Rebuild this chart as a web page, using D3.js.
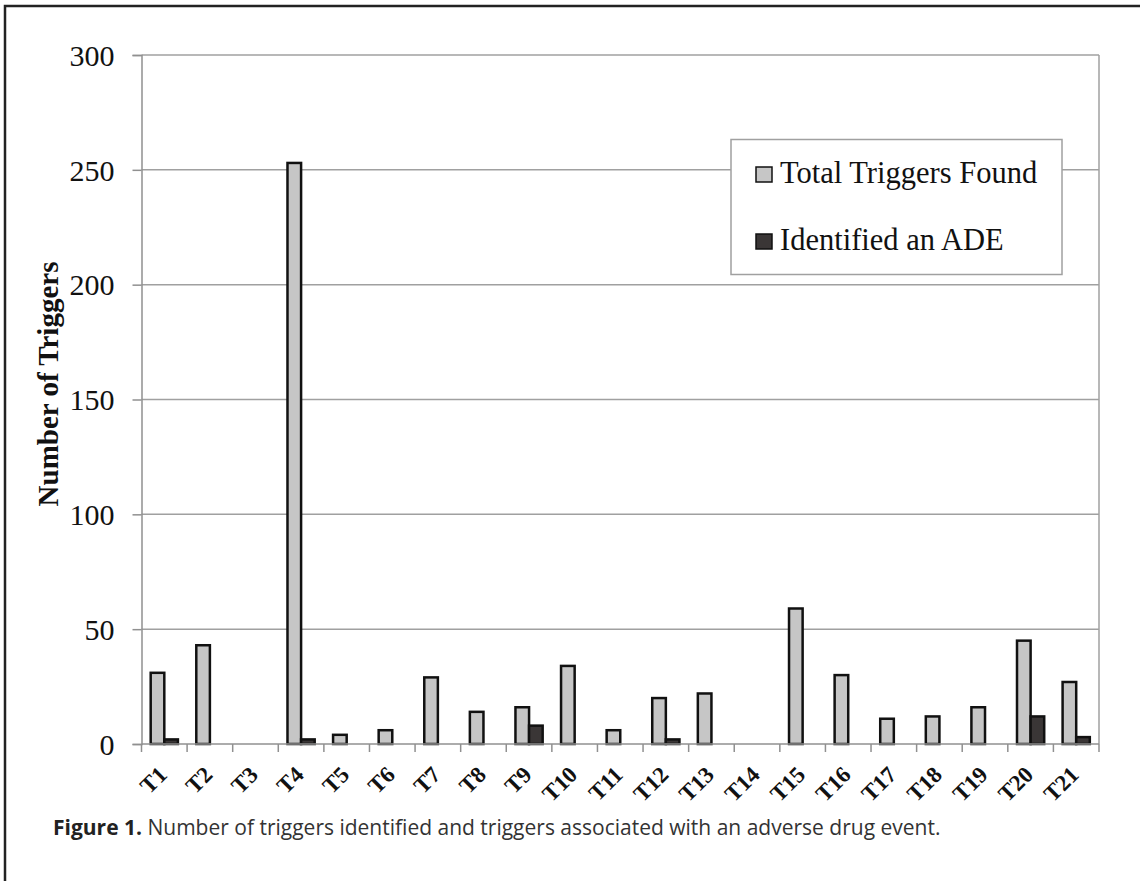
<!DOCTYPE html>
<html>
<head>
<meta charset="utf-8">
<script src="https://d3js.org/d3.v7.min.js"></script>
<style>
  body { margin: 0; background: #fff; }
  svg { display: block; }
</style>
</head>
<body>
<div id="chart"></div>
<script>
// data
var categories = ["T1","T2","T3","T4","T5","T6","T7","T8","T9","T10","T11",
                  "T12","T13","T14","T15","T16","T17","T18","T19","T20","T21"];
var totalTriggers = [31,43,0,253,4,6,29,14,16,34,6,20,22,0,59,30,11,12,16,45,27];
var identifiedADE = [2,0,0,2,0,0,0,0,8,0,0,2,0,0,0,0,0,0,0,12,3];
var seriesNames = ["Total Triggers Found", "Identified an ADE"];
var yTicks = [0,50,100,150,200,250,300];

var W = 1140, H = 881;
var plotLeft = 141.5, plotRight = 1099, plotTop = 55, plotBottom = 744;
var colors = ["#c6c6c6", "#3a3636"];
var serif = "'Liberation Serif', 'Times New Roman', serif";

var svg = d3.select("#chart").append("svg")
  .attr("width", W)
  .attr("height", H);

// figure frame (left and top only, the rest is cropped)
svg.append("path")
  .attr("d", "M5," + H + "V6H" + W)
  .attr("fill", "none")
  .attr("stroke", "#222")
  .attr("stroke-width", 2.5);

var x = d3.scaleBand().domain(categories).range([plotLeft, plotRight]);
var x1 = d3.scaleBand().domain([0, 1]).range([0, x.bandwidth()]).paddingOuter(0.676);
var y = d3.scaleLinear().domain([0, 300]).range([plotBottom, plotTop]);

// gridlines
svg.selectAll("line.grid")
  .data(yTicks.filter(function(d) { return d > 0; }))
  .enter()
  .append("line")
  .attr("class", "grid")
  .attr("x1", plotLeft)
  .attr("x2", plotRight)
  .attr("y1", function(d) { return y(d); })
  .attr("y2", function(d) { return y(d); })
  .attr("stroke", "#a0a0a0")
  .attr("stroke-width", 1.5);

// right border of plot area
svg.append("line")
  .attr("x1", plotRight).attr("x2", plotRight)
  .attr("y1", plotTop).attr("y2", plotBottom)
  .attr("stroke", "#a0a0a0")
  .attr("stroke-width", 1.5);

// y axis
var yAxis = svg.append("g")
  .attr("transform", "translate(" + plotLeft + ",0)")
  .call(d3.axisLeft(y).tickValues(yTicks).tickSize(9).tickPadding(18));
yAxis.select(".domain").attr("stroke", "#909090").attr("stroke-width", 1.5);
yAxis.selectAll(".tick line").attr("stroke", "#909090").attr("stroke-width", 1.5);
yAxis.selectAll(".tick text")
  .attr("font-family", serif)
  .attr("font-size", 30)
  .attr("fill", "#111")
  .attr("dy", "0.34em");

// bars
var groups = svg.selectAll("g.cat")
  .data(categories)
  .enter()
  .append("g")
  .attr("class", "cat")
  .attr("transform", function(d) { return "translate(" + x(d) + ",0)"; });

groups.selectAll("rect")
  .data(function(d, i) {
    return [{s: 0, v: totalTriggers[i]}, {s: 1, v: identifiedADE[i]}]
      .filter(function(b) { return b.v > 0; });
  })
  .enter()
  .append("rect")
  .attr("x", function(d) { return x1(d.s); })
  .attr("width", x1.bandwidth())
  .attr("y", function(d) { return y(d.v); })
  .attr("height", function(d) { return y(0) - y(d.v); })
  .attr("fill", function(d) { return colors[d.s]; })
  .attr("stroke", "#111")
  .attr("stroke-width", 2.5);

// x axis
svg.append("line")
  .attr("x1", plotLeft).attr("x2", plotRight)
  .attr("y1", plotBottom).attr("y2", plotBottom)
  .attr("stroke", "#909090")
  .attr("stroke-width", 1.5);

var boundaries = categories.map(function(c) { return x(c); }).concat([plotRight]);
svg.selectAll("line.xtick")
  .data(boundaries)
  .enter()
  .append("line")
  .attr("class", "xtick")
  .attr("x1", function(d) { return d; })
  .attr("x2", function(d) { return d; })
  .attr("y1", plotBottom)
  .attr("y2", plotBottom + 8)
  .attr("stroke", "#909090")
  .attr("stroke-width", 1.5);

svg.selectAll("text.xlab")
  .data(categories)
  .enter()
  .append("text")
  .attr("class", "xlab")
  .attr("transform", function(d) {
    return "translate(" + (x(d) + x.bandwidth() / 2 + 4) + "," + (plotBottom + 32) + ") rotate(-45)";
  })
  .attr("text-anchor", "end")
  .attr("font-family", serif)
  .attr("font-weight", "bold")
  .attr("font-size", 23)
  .attr("fill", "#111")
  .text(function(d) { return d; });

// y title
svg.append("text")
  .attr("transform", "translate(58," + 384 + ") rotate(-90)")
  .attr("text-anchor", "middle")
  .attr("font-family", serif)
  .attr("font-weight", "bold")
  .attr("font-size", 29)
  .attr("fill", "#111")
  .text("Number of Triggers");

// legend
var legend = svg.append("g");
legend.append("rect")
  .attr("x", 731).attr("y", 139.5)
  .attr("width", 331).attr("height", 135)
  .attr("fill", "#fff")
  .attr("stroke", "#a0a0a0")
  .attr("stroke-width", 1.5);

var items = legend.selectAll("g.item")
  .data(seriesNames)
  .enter()
  .append("g")
  .attr("class", "item")
  .attr("transform", function(d, i) { return "translate(756," + (183 + i * 67) + ")"; });

items.append("rect")
  .attr("x", 0).attr("y", -16)
  .attr("width", 16).attr("height", 15)
  .attr("fill", function(d, i) { return colors[i]; })
  .attr("stroke", "#111")
  .attr("stroke-width", 1.5);

items.append("text")
  .attr("x", 24)
  .attr("font-family", serif)
  .attr("font-size", 30.5)
  .attr("fill", "#111")
  .text(function(d) { return d; });

// caption
var cap = svg.append("text")
  .attr("x", 53)
  .attr("y", 835)
  .attr("font-family", "'Open Sans', 'Noto Sans', sans-serif")
  .attr("font-size", 21)
  .attr("fill", "#333");
cap.append("tspan").attr("font-weight", "bold").attr("fill", "#222").text("Figure 1.");
cap.append("tspan").text(" Number of triggers identified and triggers associated with an adverse drug event.");
</script>
</body>
</html>
